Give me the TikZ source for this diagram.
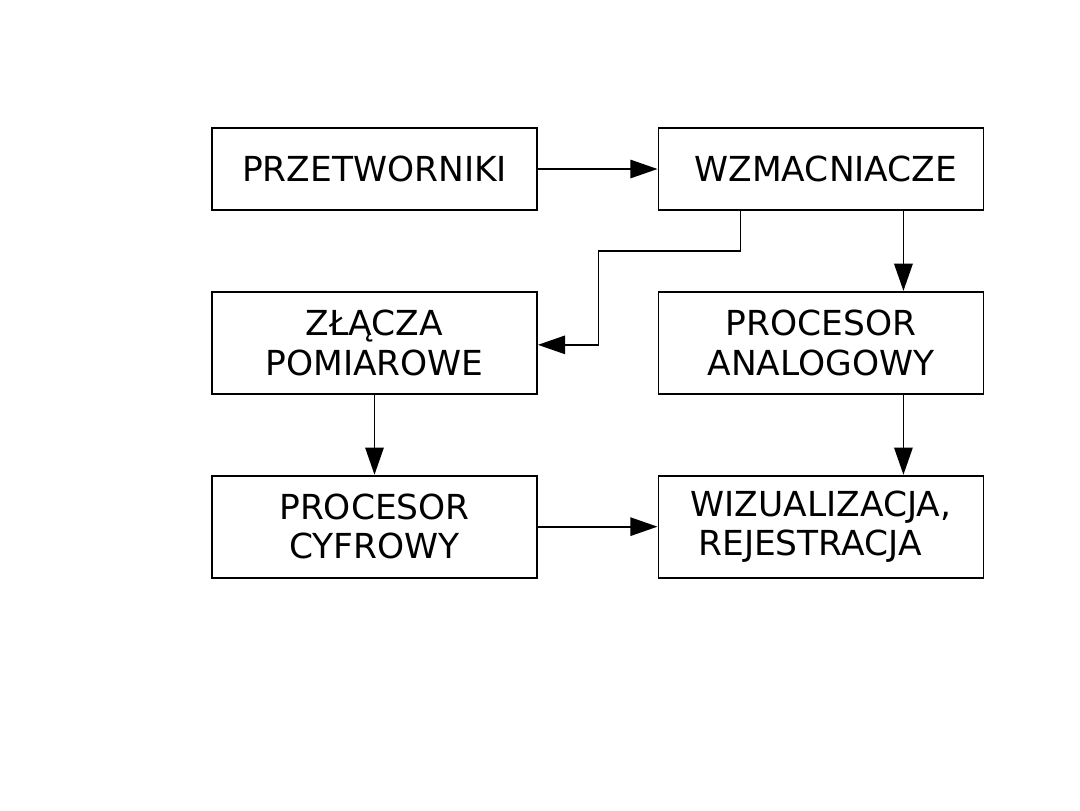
\documentclass[tikz,border=0pt]{standalone}
\usepackage{fontspec}
\setmainfont{DejaVu Sans}
\usepackage{tikz}
\usetikzlibrary{arrows.meta,positioning,calc}
\tikzset{
  blok/.style={rectangle,draw=black,line width=1.3pt,fill=white,
               minimum width=8.125cm,minimum height=#1,align=center,
               inner sep=0pt,font=\fontsize{24.5}{29}\selectfont},
  blok/.default=2.55cm,
  arrow/.style={-{Triangle[length=0.68cm,width=0.46cm]},line width=1.3pt},
}
\begin{document}
\begin{tikzpicture}[node distance=2.0cm and 2.99cm]
  \useasboundingbox (0,0) rectangle (27,-20.25);

  \node[blok=2.05cm] (prz) at (9.3625,-4.225) {PRZETWORNIKI};
  \node[blok=2.05cm,right=of prz] (wzm) {\hspace*{0.25cm}WZMACNIACZE};

  \node[blok,below=of prz] (zl) {ZŁĄCZA\\[-1pt]POMIAROWE};
  \node[blok,below=of wzm] (ana) {PROCESOR\\[-1pt]ANALOGOWY};

  \node[blok,below=of zl] (cyf) {PROCESOR\\[-1pt]CYFROWY};
  \node[blok,below=of ana] (wiz) {WIZUALIZACJA,\\[-1pt]REJESTRACJA\hspace*{0.55cm}};

  \draw[arrow] (prz) -- (wzm);
  \draw[arrow] ([xshift=-2.0125cm]wzm.south) -- ++(0,-1) -- ++(-3.55,0)
      |- ([yshift=-0.05cm]zl.east);
  \draw[arrow] ([xshift=2.0625cm]wzm.south) -- ([xshift=2.0625cm]ana.north);
  \draw[arrow] ([xshift=2.0625cm]ana.south) -- ([xshift=2.0625cm]wiz.north);
  \draw[arrow] (zl) -- (cyf);
  \draw[arrow] (cyf) -- (wiz);

\end{tikzpicture}
\end{document}
